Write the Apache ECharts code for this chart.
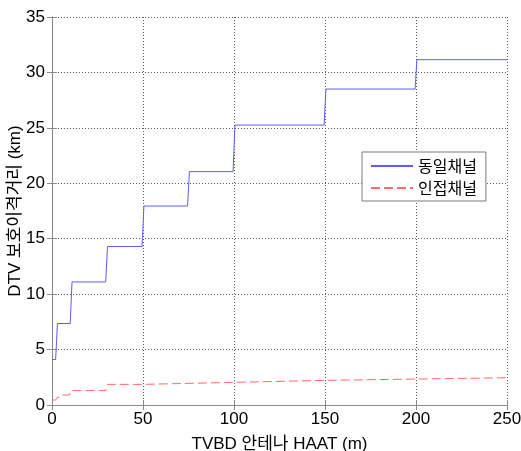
<!DOCTYPE html>
<html>
<head>
<meta charset="utf-8">
<script src="https://cdn.jsdelivr.net/npm/echarts@6/dist/echarts.min.js"></script>
<style>html,body{margin:0;padding:0;background:#fff}#c{width:521px;height:451px}</style>
</head>
<body>
<div id="c"></div>
<script>
// ---- data ----
const seriesNames = ['동일채널', '인접채널'];
const coChannelX = [0, 2, 3, 10, 11, 29.5, 30.5, 49.5, 50.5, 74.5, 75.5, 99.5, 100.5, 149.5, 150.5, 199.5, 200.5, 250];
const coChannelY = [4.1, 4.1, 7.35, 7.35, 11.1, 11.1, 14.3, 14.3, 17.95, 17.95, 21.05, 21.05, 25.25, 25.25, 28.5, 28.5, 31.15, 31.15];
const adjChannelX = [0, 2, 3, 5, 6, 9.5, 10.5, 29.5, 30.5, 49.5, 50.5, 99.5, 100.5, 149.5, 150.5, 199.5, 200.5, 250];
const adjChannelY = [0.45, 0.45, 0.7, 0.7, 0.9, 0.9, 1.3, 1.3, 1.86, 1.86, 2.04, 2.04, 2.22, 2.22, 2.34, 2.34, 2.46, 2.46];
const xTicks = [0, 50, 100, 150, 200, 250];
const yTicks = [0, 5, 10, 15, 20, 25, 30, 35];
const xTitle = 'TVBD 안테나 HAAT (m)';
const yTitle = 'DTV 보호이격거리 (km)';

const pairs = (xs, ys) => xs.map((x, i) => [x, ys[i]]);
const FONT = '"Liberation Sans", Arial, "Noto Sans CJK KR", sans-serif';
const gridLine = { show: true, lineStyle: { color: '#5a5a5a', type: [1, 2], width: 1 } };
const axisLine = { show: true, lineStyle: { color: '#8a8a8a', width: 1 } };
const tick = { show: true, inside: true, length: 5, lineStyle: { color: '#8a8a8a' } };

const chart = echarts.init(document.getElementById('c'));
chart.setOption({
  animation: false,
  backgroundColor: '#fff',
  grid: { left: 52, right: 14, top: 17, bottom: 46, containLabel: false, outerBoundsMode: 'none' },
  legend: {
    orient: 'vertical',
    left: 362, top: 152,
    padding: [6, 9, 5, 8],
    itemGap: 6,
    itemWidth: 42, itemHeight: 14,
    backgroundColor: '#fff',
    borderColor: '#7a7a7a', borderWidth: 1, borderRadius: 0,
    itemStyle: { opacity: 0 },
    textStyle: { fontFamily: '"Noto Sans CJK KR", sans-serif', fontSize: 16, color: '#000', letterSpacing: 2 },
    data: seriesNames
  },
  xAxis: [{
    type: 'value', min: xTicks[0], max: xTicks[xTicks.length - 1], interval: 50,
    name: xTitle, nameLocation: 'middle', nameGap: 31, nameMoveOverlap: false,
    nameTextStyle: { fontFamily: FONT, fontSize: 17, color: '#000' },
    axisLine: axisLine, axisTick: tick, splitLine: gridLine,
    axisLabel: { fontFamily: FONT, fontSize: 17, color: '#000', margin: 6 }
  }, {
    type: 'value', position: 'top', min: 0, max: 250, interval: 50,
    axisLine: axisLine, axisTick: tick, splitLine: { show: false }, axisLabel: { show: false }
  }],
  yAxis: [{
    type: 'value', min: yTicks[0], max: yTicks[yTicks.length - 1], interval: 5,
    name: yTitle, nameLocation: 'middle', nameGap: 28, nameMoveOverlap: false,
    nameTextStyle: { fontFamily: FONT, fontSize: 17, color: '#000', letterSpacing: 2 },
    axisLine: axisLine, axisTick: tick, splitLine: gridLine,
    axisLabel: { fontFamily: FONT, fontSize: 17, color: '#000', margin: 7 }
  }, {
    type: 'value', position: 'right', min: 0, max: 35, interval: 5,
    axisLine: axisLine, axisTick: tick, splitLine: { show: false }, axisLabel: { show: false }
  }],
  series: [{
    name: seriesNames[0], type: 'line', showSymbol: false, symbol: 'none',
    data: pairs(coChannelX, coChannelY),
    lineStyle: { color: '#5c5cff', width: 1 }, itemStyle: { color: '#5c5cff' }
  }, {
    name: seriesNames[1], type: 'line', showSymbol: false, symbol: 'none',
    data: pairs(adjChannelX, adjChannelY),
    lineStyle: { color: '#ff6a6a', width: 1, type: [9, 4] }, itemStyle: { color: '#ff6a6a' }
  }]
});
</script>
</body>
</html>
